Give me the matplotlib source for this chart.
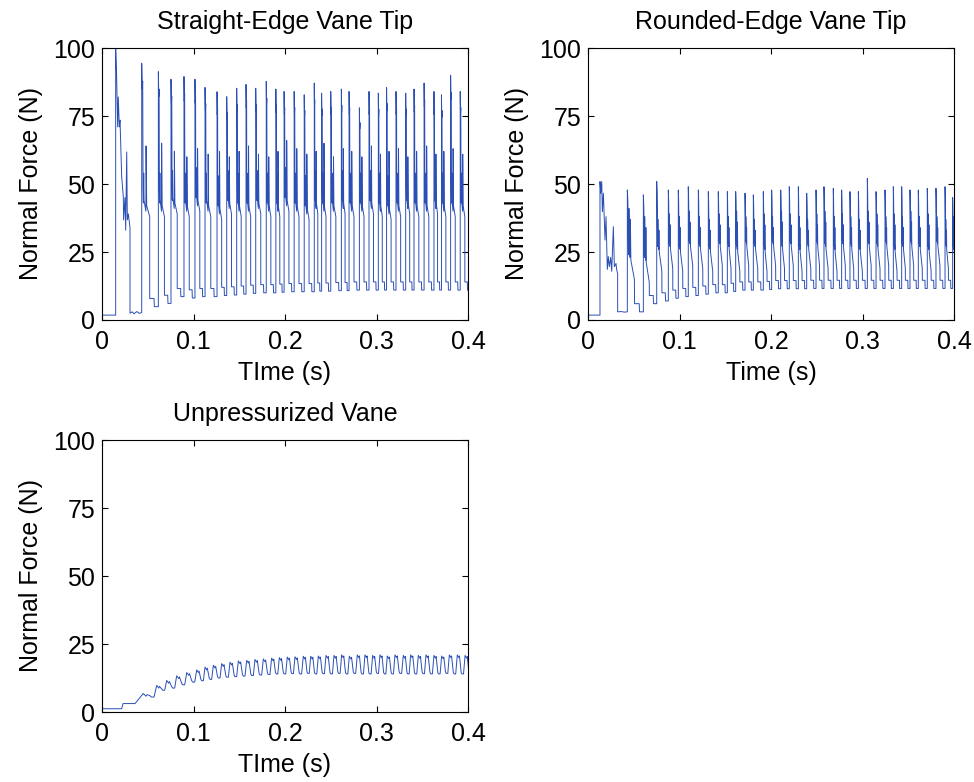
# -*- coding: utf-8 -*-
"""
Normal force on the vane tip for three vane designs (3 panels, 2x2 grid).
Each trace is rebuilt from per-cycle values read off the original figure:
cycle start time, peak, secondary spike, plateau and trough level.
"""
import matplotlib
matplotlib.use('Agg')
import matplotlib.pyplot as plt

#=============================DATA========================================
# straight-edge vane tip: start-up transient (t, F) then one entry per cycle
startup1_t = [0.0, 0.01494, 0.01494, 0.0160, 0.0171, 0.0178, 0.0189, 0.0197, 0.0215, 0.0233,
              0.0236, 0.0251, 0.0259, 0.0270, 0.0277, 0.0288, 0.0299, 0.0306, 0.0306, 0.0330,
              0.0350, 0.0380, 0.0410, 0.0434]
startup1_f = [1.8, 1.8, 99.9, 89.5, 71.0, 82.0, 71.0, 73.5, 52.7, 45.3,
              36.8, 45.0, 33.0, 61.8, 36.8, 39.0, 36.0, 34.0, 2.5, 3.0,
              2.3, 3.1, 2.4, 2.8]
starts1 = [0.0434, 0.0616, 0.0754, 0.0896, 0.1016, 0.1126, 0.1257, 0.1363, 0.1472, 0.1574,
           0.1680, 0.1795, 0.1900, 0.1990, 0.2100, 0.2210, 0.2320, 0.2400, 0.2500, 0.2616,
           0.2700, 0.2813, 0.2918, 0.3020, 0.3110, 0.3213, 0.3319, 0.3410, 0.3520, 0.3628,
           0.3710, 0.3810, 0.3915]
peaks1 = [94.4, 91.3, 88.5, 89.5, 88.5, 85.5, 83.9, 82.1, 85.2, 86.6,
          85.2, 87.7, 84.9, 84.0, 84.0, 82.8, 87.1, 83.4, 84.0, 84.9,
          84.0, 78.0, 84.0, 83.4, 85.5, 84.0, 83.4, 84.9, 87.1, 84.0,
          82.8, 90.0, 84.0]
spikes1 = [64, 65, 62, 60, 63, 61, 62, 60, 62, 64,
           61, 60, 62, 66, 63, 61, 62, 65, 60, 63,
           62, 60, 64, 61, 62, 63, 60, 62, 64, 61,
           62, 63, 61]
plateaus1 = [40, 40, 41, 40, 42, 40, 39, 41, 40, 40,
             41, 40, 40, 42, 40, 39, 41, 40, 40, 41,
             40, 40, 41, 40, 39, 40, 41, 40, 40, 41,
             40, 40, 40]
troughs1 = [4.9, 6.1, 8.6, 8.1, 8.6, 8.6, 9.0, 9.2, 9.5, 9.8,
            10.0, 10.0, 10.2, 10.4, 10.4, 10.4, 10.6, 10.6, 10.8, 10.8,
            11.0, 11.0, 11.0, 11.0, 11.0, 11.0, 11.0, 11.0, 11.0, 11.0,
            11.0, 11.0, 11.0]

# rounded-edge vane tip
startup2_t = [0.0, 0.0131, 0.0131, 0.0139, 0.0150, 0.0157, 0.0168, 0.0179, 0.0186, 0.0197,
              0.0204, 0.0211, 0.0222, 0.0233, 0.0248, 0.0259, 0.0277, 0.0288, 0.0306, 0.0313,
              0.0324, 0.0324, 0.0360, 0.0400, 0.0430]
startup2_f = [1.8, 1.8, 50.9, 46.6, 50.9, 39.8, 46.6, 35.5, 29.4, 38.0,
              28.0, 18.6, 23.3, 19.6, 23.0, 17.9, 34.3, 19.6, 20.8, 18.6,
              17.0, 3.0, 3.1, 2.9, 3.0]
starts2 = [0.0430, 0.0605, 0.0751, 0.0878, 0.0987, 0.1096, 0.1206, 0.1315, 0.1424, 0.1523,
           0.1614, 0.1716, 0.1807, 0.1916, 0.2007, 0.2106, 0.2200, 0.2299, 0.2390, 0.2492,
           0.2579, 0.2681, 0.2772, 0.2863, 0.2955, 0.3053, 0.3148, 0.3246, 0.3337, 0.3428,
           0.3519, 0.3610, 0.3708, 0.3803, 0.3902, 0.3985]
peaks2 = [47.8, 46.0, 50.9, 47.8, 47.8, 49.0, 47.8, 47.2, 47.2, 47.2,
          47.2, 46.6, 46.0, 47.2, 47.8, 47.8, 49.0, 49.0, 46.6, 47.8,
          49.0, 48.4, 47.8, 47.2, 47.2, 52.0, 47.2, 47.8, 49.0, 49.0,
          47.8, 47.8, 48.4, 48.4, 49.0, 45.0]
spikes2 = [41, 38, 37, 39, 38, 40, 38, 37, 39, 38,
           40, 38, 37, 39, 38, 40, 39, 38, 37, 39,
           40, 38, 39, 38, 37, 40, 39, 38, 39, 38,
           40, 38, 39, 38, 37, 38]
plateaus2 = [25, 24, 28, 29, 28, 30, 29, 28, 30, 29,
             28, 30, 29, 28, 30, 29, 30, 28, 29, 30,
             29, 28, 30, 29, 28, 30, 29, 30, 28, 29,
             30, 29, 28, 30, 29, 28]
troughs2 = [3.0, 6.0, 7.0, 8.0, 8.6, 9.0, 9.5, 10.0, 10.0, 10.5,
            11.0, 11.0, 11.0, 11.2, 11.5, 11.5, 11.5, 11.5, 11.6, 11.6,
            11.6, 11.6, 11.6, 11.6, 11.6, 11.6, 11.6, 11.6, 11.6, 11.6,
            11.6, 11.6, 11.6, 11.6, 11.6, 11.6]

# unpressurized vane
startup3_t = [0.0, 0.0215, 0.0230, 0.0361, 0.0451]
startup3_f = [1.2, 1.2, 3.1, 3.1, 6.8]
starts3 = [0.0451, 0.0598, 0.0707, 0.0816, 0.0926, 0.1035, 0.1126, 0.1217, 0.1308, 0.1399,
           0.1490, 0.1581, 0.1672, 0.1763, 0.1854, 0.1938, 0.2025, 0.2109, 0.2200, 0.2281,
           0.2364, 0.2448, 0.2536, 0.2619, 0.2703, 0.2790, 0.2874, 0.2958, 0.3038, 0.3118,
           0.3202, 0.3293, 0.3373, 0.3457, 0.3541, 0.3628, 0.3712, 0.3796, 0.3883, 0.3968]
peaks3 = [6.8, 9.8, 11.6, 13.3, 14.5, 15.5, 16.5, 17.2, 17.8, 18.3,
          18.8, 19.0, 19.3, 19.5, 19.8, 20.0, 20.2, 20.3, 20.5, 20.5,
          20.6, 20.8, 20.8, 21.0, 20.5, 21.0, 21.0, 20.8, 21.0, 20.6,
          21.0, 20.8, 21.0, 20.8, 21.0, 20.8, 20.6, 21.0, 21.0, 20.8]
troughs3 = [5.5, 8.0, 8.8, 10.0, 11.0, 11.5, 12.0, 12.5, 12.8, 13.0,
            13.2, 13.4, 13.6, 13.8, 14.0, 14.0, 14.1, 14.0, 14.2, 14.0,
            14.1, 14.0, 14.2, 14.0, 14.2, 14.0, 14.0, 14.2, 14.0, 14.0,
            14.2, 14.0, 14.0, 14.1, 14.0, 14.0, 14.2, 14.0, 14.0, 14.0]

titles = ['Straight-Edge Vane Tip', 'Rounded-Edge Vane Tip', 'Unpressurized Vane']
xlabels = ['TIme (s)', 'Time (s)', 'TIme (s)']
ylabel = 'Normal Force (N)'
xticks = [0, 0.1, 0.2, 0.3, 0.4]
xticklabels = ['0', '0.1', '0.2', '0.3', '0.4']
yticks = [0, 25, 50, 75, 100]

#=============================FUNCTIONS========================================

def straightShape(p, s, m, tr):
    '''one straight-edge cycle as (fraction of period, force)'''
    return [(0, p), (0.03, 0.9 * p), (0.06, 0.93 * p), (0.08, m + 8), (0.10, m + 3),
            (0.12, m + 14), (0.14, m + 4), (0.25, m), (0.26, s), (0.30, m + 2),
            (0.48, m - 2), (0.48, tr + 3), (0.74, tr + 3), (0.76, tr), (1.0, tr)]

def roundedShape(p, s, m, tr):
    '''one rounded-edge cycle'''
    return [(0, p), (0.03, 0.92 * p), (0.05, 0.8 * p), (0.07, m), (0.09, m - 1),
            (0.10, s), (0.13, m + 1), (0.17, m - 2), (0.19, s - 4), (0.22, m - 3),
            (0.44, m - 10), (0.45, tr + 3), (0.74, tr + 3), (0.76, tr), (1.0, tr)]

def unpressShape(p, tr):
    '''one unpressurized cycle, peak first'''
    return [(0, p), (0.2, p - 1.0), (0.28, p - 0.4), (0.5, tr + 0.5), (0.6, tr),
            (0.8, tr)]

def buildTrace(st_t, st_f, starts, pts_for_cycle):
    '''start-up points followed by one template per cycle'''
    t = list(st_t)
    f = list(st_f)
    ends = list(starts[1:]) + [starts[-1] + (starts[-1] - starts[-2])]
    for i in range(len(starts)):
        dt = ends[i] - starts[i]
        for frac, val in pts_for_cycle(i):
            t.append(starts[i] + frac * dt)
            f.append(val)
    return t, f

#=============================MAIN========================================
t1, f1 = buildTrace(startup1_t, startup1_f, starts1,
                    lambda i: straightShape(peaks1[i], spikes1[i], plateaus1[i], troughs1[i]))
t2, f2 = buildTrace(startup2_t, startup2_f, starts2,
                    lambda i: roundedShape(peaks2[i], spikes2[i], plateaus2[i], troughs2[i]))
t3, f3 = buildTrace(startup3_t, startup3_f, starts3,
                    lambda i: unpressShape(peaks3[i], troughs3[i]))

fs = 18
plt.rcParams['font.family'] = ['Liberation Sans', 'DejaVu Sans']
plt.rcParams['font.size'] = fs

fig = plt.figure(figsize=(9.74, 7.82), dpi=100)
W, H = 974.0, 782.0
# axes boxes in pixels: left, top, right, bottom
boxes = [(102, 48, 468, 320), (588, 48, 954, 320), (102, 440, 468, 712)]
traces = [(t1, f1), (t2, f2), (t3, f3)]
line_color = '#2b4fb5'

for k in range(3):
    l, tp, r, b = boxes[k]
    ax = fig.add_axes([l / W, 1 - b / H, (r - l) / W, (b - tp) / H])
    ax.plot(traces[k][0], traces[k][1], color=line_color, lw=0.7)
    ax.set_xlim(0, 0.4)
    ax.set_ylim(0, 100)
    ax.set_xticks(xticks)
    ax.set_xticklabels(xticklabels)
    ax.set_yticks(yticks)
    ax.tick_params(direction='in', top=True, right=True, length=4, width=0.8,
                   labelsize=fs)
    ax.tick_params(axis='x', pad=7)
    ax.tick_params(axis='y', pad=5)
    for sp in ax.spines.values():
        sp.set_linewidth(0.8)
    ax.set_title(titles[k], fontsize=fs, pad=14)
    ax.set_xlabel(xlabels[k], fontsize=fs, labelpad=5)
    ax.set_ylabel(ylabel, fontsize=fs, labelpad=7)

fig.savefig('out.png', dpi=100)
